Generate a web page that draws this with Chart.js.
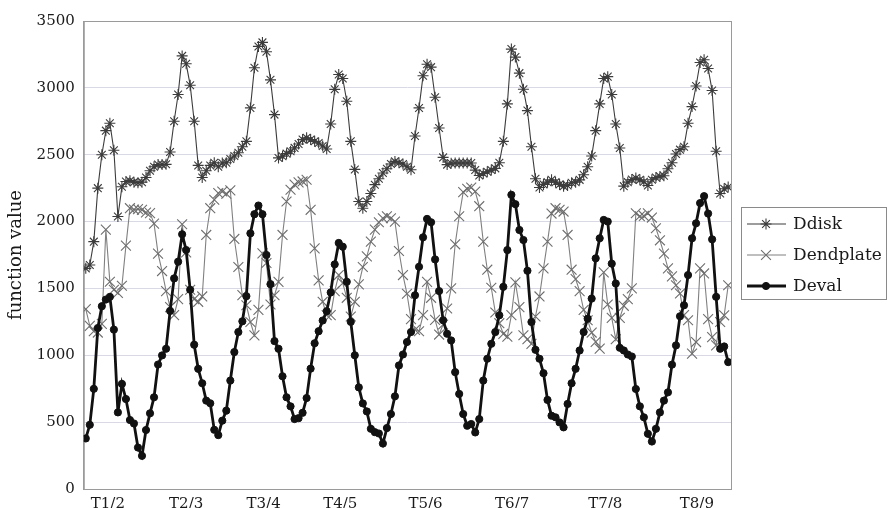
<!DOCTYPE html>
<html>
<head>
<meta charset="utf-8">
<script src="https://cdn.jsdelivr.net/npm/chart.js@4.4.0/dist/chart.umd.min.js"></script>
<style>
  body { margin: 0; background: #fff; }
  #grafico { display: block; }
</style>
</head>
<body>
<canvas id="grafico" width="887" height="508"></canvas>
<script>
// valores (un punto por paso de tiempo)
const ddisk = [
  1650, 1675, 1850, 2250, 2500, 2680, 2735, 2533, 2038, 2260, 2300, 2306, 2295, 2290, 2295, 2330,
  2380, 2410, 2426, 2426, 2428, 2520, 2750, 2950, 3239, 3180, 3020, 2750, 2420, 2330, 2380, 2420,
  2440, 2410, 2438, 2440, 2468, 2490, 2515, 2560, 2600, 2850, 3150, 3310, 3340, 3270, 3060, 2800,
  2476, 2488, 2508, 2526, 2551, 2580, 2613, 2626, 2613, 2600, 2588, 2565, 2543, 2730, 2989, 3100,
  3070, 2900, 2600, 2390, 2150, 2100, 2150, 2210, 2276, 2320, 2363, 2395, 2430, 2450, 2440, 2430,
  2410, 2388, 2640, 2850, 3090, 3177, 3155, 2930, 2700, 2480, 2426, 2436, 2438, 2438, 2438, 2438,
  2438, 2385, 2345, 2360, 2372, 2385, 2398, 2440, 2600, 2880, 3290, 3230, 3110, 2990, 2830, 2560,
  2320, 2255, 2278, 2295, 2312, 2295, 2278, 2265, 2270, 2290, 2295, 2312, 2350, 2410, 2490, 2680,
  2880, 3070, 3084, 2950, 2730, 2550, 2265, 2295, 2315, 2326, 2312, 2298, 2270, 2313, 2330, 2338,
  2343, 2395, 2440, 2505, 2538, 2560, 2735, 2860, 3014, 3190, 3210, 3145, 2980, 2526, 2210, 2245,
  2258,
];

const dendplate = [
  1345, 1220, 1180, 1170, 1235, 1940, 1550, 1490, 1467, 1520, 1820, 2100, 2090, 2093, 2088, 2068,
  2063, 1985, 1760, 1630, 1480, 1360, 1300, 1420, 1980, 1770, 1490, 1420, 1400, 1440, 1900, 2100,
  2163, 2213, 2225, 2208, 2233, 1870, 1660, 1450, 1374, 1249, 1149, 1340, 1762, 1690, 1380, 1449,
  1549, 1900, 2150, 2238, 2276, 2293, 2300, 2313, 2088, 1800, 1560, 1400, 1300, 1300, 1480, 1600,
  1540, 1430, 1290, 1400, 1530, 1660, 1740, 1850, 1940, 1995, 2025, 2040, 2025, 2000, 1780, 1600,
  1460, 1270, 1190, 1180, 1300, 1549, 1430, 1265, 1155, 1230, 1350, 1500, 1830, 2040, 2220, 2245,
  2255, 2225, 2115, 1850, 1640, 1505, 1320, 1240, 1160, 1140, 1300, 1545, 1360, 1150, 1120, 1085,
  1290, 1440, 1650, 1850, 2060, 2100, 2088, 2075, 1900, 1640, 1570, 1480, 1340, 1262, 1170, 1100,
  1050, 1620, 1380, 1280, 1120, 1280, 1370, 1420, 1500, 2062, 2040, 2042, 2062, 2030, 1950, 1860,
  1760, 1650, 1590, 1524, 1462, 1300, 1262, 1012, 1099, 1650, 1612, 1270, 1136, 1074, 1249, 1299,
  1524,
];

const deval = [
  378, 480, 749, 1204, 1367, 1417, 1437, 1192, 573, 786, 673, 516, 490, 310, 248, 441,
  566, 686, 931, 999, 1049, 1332, 1575, 1700, 1905, 1787, 1490, 1079, 899, 791, 661, 641,
  443, 403, 511, 586, 811, 1024, 1174, 1254, 1442, 1912, 2055, 2120, 2055, 1750, 1532, 1106,
  1049, 843, 686, 618, 523, 530, 570, 680, 900, 1090, 1180, 1260, 1330, 1470, 1680, 1840,
  1812, 1550, 1250, 1000, 760, 640, 580, 450, 425, 415, 340, 456, 561, 693, 924, 1006,
  1099, 1174, 1449, 1662, 1882, 2020, 1995, 1717, 1480, 1262, 1161, 1111, 874, 711, 561, 473,
  486, 423, 523, 811, 974, 1086, 1174, 1299, 1512, 1787, 2200, 2130, 1937, 1862, 1632, 1249,
  1041, 974, 866, 666, 548, 536, 498, 461, 636, 791, 899, 1036, 1174, 1274, 1424, 1725,
  1875, 2012, 2000, 1685, 1537, 1056, 1036, 1006, 991, 748, 618, 536, 413, 355, 450, 573,
  661, 723, 930, 1074, 1292, 1374, 1600, 1875, 1987, 2138, 2190, 2060, 1867, 1437, 1049, 1066,
  949,
];

// etiquetas del eje x y su posicion (indice del punto)
const etiquetasX = ["T1/2", "T2/3", "T3/4", "T4/5", "T5/6", "T6/7", "T7/8", "T8/9"];
const posEtiquetasX = [5.5, 25, 44.3, 63.4, 84.6, 106.2, 129.4, 152.2];

const ticksY = [0, 500, 1000, 1500, 2000, 2500, 3000, 3500];

const fuente = "'DejaVu Serif', 'Liberation Serif', serif";

function puntos(arr) {
  return arr.map((v, i) => ({ x: i, y: v }));
}

/* marco alrededor del area del grafico */
const marco = {
  id: "marco",
  beforeDatasetsDraw(chart) {
    const { ctx, chartArea: a } = chart;
    ctx.save();
    ctx.strokeStyle = "#9a9a9a";
    ctx.lineWidth = 1;
    ctx.strokeRect(a.left + 0.5, a.top + 0.5, a.right - a.left, a.bottom - a.top);
    ctx.restore();
  },
};

/* leyenda con recuadro a la derecha */
const leyenda = {
  id: "leyenda",
  afterDraw(chart) {
    const ctx = chart.ctx;
    ctx.save();
    ctx.strokeStyle = "#8a8a8a";
    ctx.lineWidth = 1;
    ctx.strokeRect(741.5, 207.5, 145, 92);
    const filas = [224, 255, 286];
    chart.data.datasets.forEach((ds, i) => {
      const y = filas[i];
      ctx.strokeStyle = ds.borderColor;
      ctx.lineWidth = ds.borderWidth;
      ctx.beginPath();
      ctx.moveTo(747, y);
      ctx.lineTo(786, y);
      ctx.stroke();
      ctx.fillStyle = ds.pointBackgroundColor;
      ctx.strokeStyle = ds.pointBorderColor;
      ctx.lineWidth = ds.pointBorderWidth;
      Chart.helpers.drawPoint(ctx, { pointStyle: ds.pointStyle, radius: ds.pointRadius, rotation: 0, borderWidth: ds.pointBorderWidth }, 766, y);
      ctx.fillStyle = "#1a1a1a";
      ctx.font = "17px " + fuente;
      ctx.textBaseline = "middle";
      ctx.fillText(ds.label, 793, y + 1);
    });
    ctx.restore();
  },
};

new Chart(document.getElementById("grafico"), {
  type: "line",
  data: {
    datasets: [
      {
        label: "Ddisk",
        data: puntos(ddisk),
        borderColor: "#3c3c3c",
        borderWidth: 1.1,
        pointStyle: "star",
        pointRadius: 5.5,
        pointBorderWidth: 1.1,
        pointBorderColor: "#3c3c3c",
        pointBackgroundColor: "#3c3c3c",
        order: 1,
      },
      {
        label: "Dendplate",
        data: puntos(dendplate),
        borderColor: "#808080",
        borderWidth: 1.1,
        pointStyle: "crossRot",
        pointRadius: 7,
        pointBorderWidth: 1.1,
        pointBorderColor: "#6e6e6e",
        pointBackgroundColor: "#6e6e6e",
        order: 2,
      },
      {
        label: "Deval",
        data: puntos(deval),
        borderColor: "#111111",
        borderWidth: 2.8,
        pointStyle: "circle",
        pointRadius: 3.6,
        pointBorderWidth: 1,
        pointBorderColor: "#111111",
        pointBackgroundColor: "#111111",
        order: 0,
      },
    ],
  },
  plugins: [marco, leyenda],
  options: {
    responsive: false,
    animation: false,
    devicePixelRatio: 1,
    layout: { padding: { left: 6, top: 21, right: 156, bottom: -3 } },
    plugins: {
      legend: { display: false },
      tooltip: { enabled: false },
    },
    elements: { line: { tension: 0 } },
    scales: {
      x: {
        type: "linear",
        min: -0.5,
        max: ddisk.length - 0.3,
        grid: { display: false },
        border: { display: true, color: "#8a8a8a" },
        afterBuildTicks: (eje) => {
          eje.ticks = posEtiquetasX.map((v) => ({ value: v }));
        },
        ticks: {
          autoSkip: false,
          maxRotation: 0,
          padding: -2,
          color: "#1a1a1a",
          font: { family: fuente, size: 15 },
          callback: (v, i) => etiquetasX[i],
        },
      },
      y: {
        min: 0,
        max: 3500,
        afterBuildTicks: (eje) => {
          eje.ticks = ticksY.map((v) => ({ value: v }));
        },
        grid: { color: "#d9d9e6", drawTicks: false },
        border: { display: true, color: "#9a9a9a" },
        ticks: {
          padding: 9,
          color: "#1a1a1a",
          font: { family: fuente, size: 15 },
          callback: (v) => String(v),
        },
        title: {
          display: true,
          text: "function value",
          color: "#1a1a1a",
          font: { family: fuente, size: 18 },
          padding: { top: 0, bottom: 0 },
        },
      },
    },
  },
});
</script>
</body>
</html>
